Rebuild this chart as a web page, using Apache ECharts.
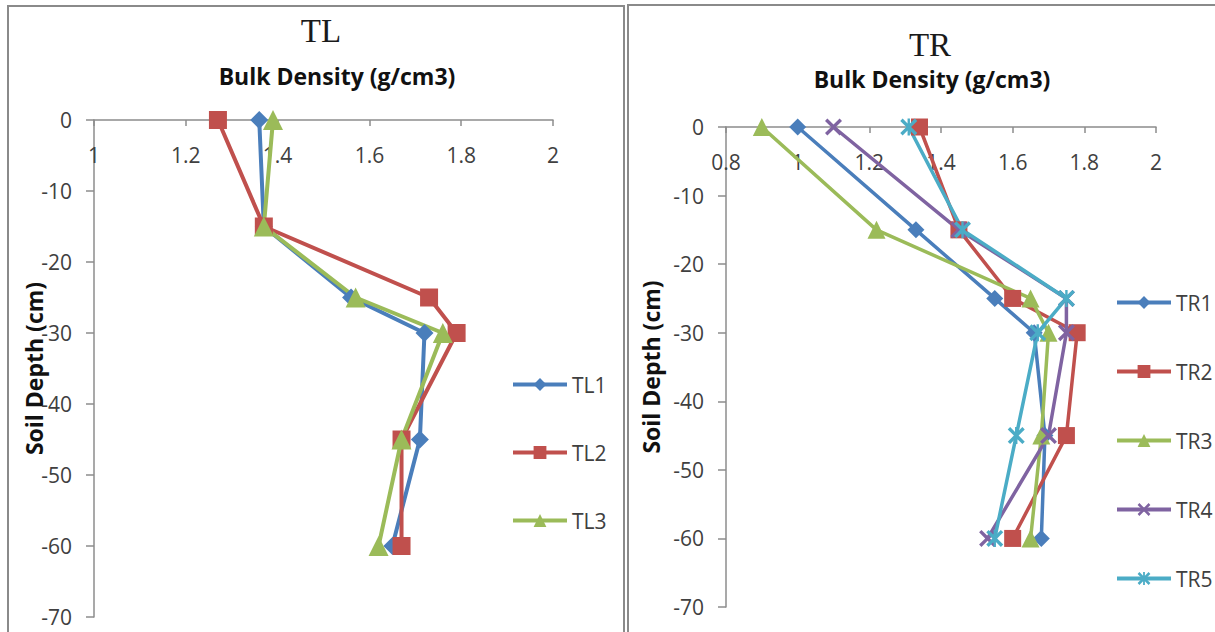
<!DOCTYPE html>
<html><head><meta charset="utf-8">
<script src="https://cdn.jsdelivr.net/npm/echarts@6/dist/echarts.min.js"></script>
<style>html,body{margin:0;padding:0;background:#fff}#c{width:1215px;height:632px}</style>
</head><body><div id="c"></div>
<script>
// ---- data ----
const depths = [0, -15, -25, -30, -45, -60];
const TL1 = [1.36, 1.37, 1.56, 1.72, 1.71, 1.65];
const TL2 = [1.27, 1.37, 1.73, 1.79, 1.67, 1.67];
const TL3 = [1.39, 1.37, 1.57, 1.76, 1.67, 1.62];
const TR1 = [1.00, 1.33, 1.55, 1.66, 1.69, 1.68];
const TR2 = [1.34, 1.45, 1.60, 1.78, 1.75, 1.60];
const TR3 = [0.90, 1.22, 1.65, 1.70, 1.68, 1.65];
const TR4 = [1.10, 1.45, 1.75, 1.75, 1.70, 1.53];
const TR5 = [1.31, 1.46, 1.75, 1.67, 1.61, 1.55];
const depthTicks = [0, -10, -20, -30, -40, -50, -60, -70];
const densityTicksTL = [1, 1.2, 1.4, 1.6, 1.8, 2];
const densityTicksTR = [0.8, 1, 1.2, 1.4, 1.6, 1.8, 2];
const titles = ['TL', 'TR'];
const xName = 'Bulk Density (g/cm3)';
const yName = 'Soil Depth (cm)';

// ---- styling ----
const COLORS = { blue: '#4A7EBB', red: '#C0504D', green: '#9BBB59', purple: '#7F63A1', cyan: '#4BACC6' };
const X_PATH = 'path://M0,1.4L1.4,0L5,3.6L8.6,0L10,1.4L6.4,5L10,8.6L8.6,10L5,6.4L1.4,10L0,8.6L3.6,5Z';
const STAR_PATH = 'path://M0,1.4L1.4,0L4.3,2.9L4.3,0L5.7,0L5.7,2.9L8.6,0L10,1.4L6.4,5L10,8.6L8.6,10L5.7,7.1L5.7,10L4.3,10L4.3,7.1L1.4,10L0,8.6L3.6,5Z';
const FONT = 'Open Sans';
const LABEL_COLOR = '#404040';
const AXIS_COLOR = '#8c8c8c';

const zip = (xs) => xs.map((x, i) => [x, depths[i]]);

function series(name, values, idx, color, symbol, size, lw) {
  return {
    name, type: 'line', xAxisIndex: idx, yAxisIndex: idx,
    data: zip(values), symbol, symbolSize: size, symbolKeepAspect: true,
    itemStyle: { color }, lineStyle: { color, width: lw },
    emphasis: { disabled: true }, z: 3
  };
}

function xAxis(idx, ticks) {
  return {
    type: 'value', gridIndex: idx, position: 'top',
    min: ticks[0], max: ticks[ticks.length - 1], interval: 0.2,
    axisLine: { show: true, onZero: false, lineStyle: { color: AXIS_COLOR, width: 1.5 } },
    axisTick: { show: true, inside: true, length: 6, lineStyle: { color: AXIS_COLOR, width: 1.5 } },
    axisLabel: { inside: true, margin: 24, fontFamily: FONT, fontSize: 21, color: LABEL_COLOR },
    splitLine: { show: false }
  };
}
function yAxis(idx, gap) {
  return {
    type: 'value', gridIndex: idx,
    min: depthTicks[depthTicks.length - 1], max: depthTicks[0], interval: 10,
    name: yName, nameLocation: 'middle', nameRotate: 90, nameGap: gap, nameMoveOverlap: false,
    nameTextStyle: { fontFamily: FONT, fontWeight: 'bold', fontSize: 23, color: '#111' },
    axisLine: { show: true, onZero: false, lineStyle: { color: AXIS_COLOR, width: 1.5 } },
    axisTick: { show: true, inside: false, length: 8, lineStyle: { color: AXIS_COLOR, width: 1.5 } },
    axisLabel: { margin: 22, fontFamily: FONT, fontSize: 21, color: LABEL_COLOR },
    splitLine: { show: false }
  };
}
function legend(names, left, top, gap) {
  return {
    data: names, orient: 'vertical', left, top, itemWidth: 54, itemHeight: 16, itemGap: gap,
    textStyle: { fontFamily: FONT, fontSize: 21, color: LABEL_COLOR },
    lineStyle: { width: 4 },
    selectedMode: false
  };
}

const chart = echarts.init(document.getElementById('c'), null, { renderer: 'svg' });
chart.setOption({
  animation: false,
  backgroundColor: '#fff',
  title: [
    { text: titles[0], left: 316, top: 26, textAlign: 'center', textVerticalAlign: 'middle',
      textStyle: { fontFamily: 'Liberation Serif', fontWeight: 'normal', fontSize: 33, color: '#1a1a1a' } },
    { text: xName, left: 332, top: 71, textAlign: 'center', textVerticalAlign: 'middle',
      textStyle: { fontFamily: FONT, fontWeight: 'bold', fontSize: 23, color: '#111' } },
    { text: titles[1], left: 925, top: 40, textAlign: 'center', textVerticalAlign: 'middle',
      textStyle: { fontFamily: 'Liberation Serif', fontWeight: 'normal', fontSize: 33, color: '#1a1a1a' } },
    { text: xName, left: 927, top: 74, textAlign: 'center', textVerticalAlign: 'middle',
      textStyle: { fontFamily: FONT, fontWeight: 'bold', fontSize: 23, color: '#111' } }
  ],
  grid: [
    { left: 94, top: 120, width: 459, height: 497 },
    { left: 726, top: 127, width: 430, height: 480 }
  ],
  xAxis: [xAxis(0, densityTicksTL), xAxis(1, densityTicksTR)],
  yAxis: [yAxis(0, 49), yAxis(1, 64)],
  legend: [
    legend(['TL1', 'TL2', 'TL3'], 506, 369, 47),
    legend(['TR1', 'TR2', 'TR3', 'TR4', 'TR5'], 1110, 287, 48)
  ],
  graphic: [
    { type: 'rect', shape: { x: 8, y: 6, width: 616, height: 650 }, style: { fill: 'none', stroke: '#8a8a8a', lineWidth: 2 }, silent: true },
    { type: 'rect', shape: { x: 628, y: 5, width: 600, height: 650 }, style: { fill: 'none', stroke: '#8a8a8a', lineWidth: 2 }, silent: true }
  ],
  series: [
    series('TL1', TL1, 0, COLORS.blue, 'diamond', 18, 4),
    series('TL2', TL2, 0, COLORS.red, 'rect', 18, 4),
    series('TL3', TL3, 0, COLORS.green, 'triangle', 20, 4),
    series('TR1', TR1, 1, COLORS.blue, 'diamond', 17, 3.5),
    series('TR2', TR2, 1, COLORS.red, 'rect', 17, 3.5),
    series('TR3', TR3, 1, COLORS.green, 'triangle', 18, 3.5),
    series('TR4', TR4, 1, COLORS.purple, X_PATH, 17, 3.5),
    series('TR5', TR5, 1, COLORS.cyan, STAR_PATH, 17, 3.5)
  ]
});
</script></body></html>
